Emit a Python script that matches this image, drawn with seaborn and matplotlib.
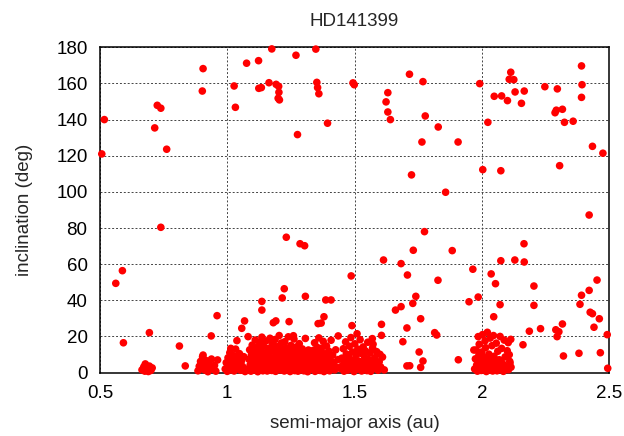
import matplotlib
matplotlib.use("Agg")
import matplotlib.pyplot as plt
import seaborn as sns
import pandas as pd

# ---- data: (semi-major axis [au], inclination [deg]) ----
high_points = [
    (1.175, 179.1), (1.348, 179.0), (1.270, 175.6), (1.123, 172.6), (1.076, 171.2),
    (0.905, 168.2), (1.027, 158.6), (1.164, 160.4), (1.124, 157.3), (1.134, 157.7),
    (1.192, 159.5), (1.202, 158.4), (1.203, 155.1), (1.200, 151.8), (1.205, 150.9),
    (1.352, 160.6), (1.355, 157.7), (1.360, 154.3), (1.494, 160.3), (1.499, 159.3),
    (0.902, 155.8), (0.725, 147.9), (0.739, 146.3), (1.032, 146.8), (0.517, 140.0),
    (0.715, 135.4), (1.276, 131.7), (1.394, 138.0), (0.762, 123.6), (0.507, 121.0),
    (1.716, 165.1), (1.769, 161.0), (1.631, 154.9), (1.624, 149.8), (1.631, 144.2),
    (1.641, 140.0), (1.778, 142.0), (1.829, 135.9), (1.765, 127.6), (1.907, 127.6),
    (1.724, 109.4), (1.858, 99.8), (1.992, 159.9), (2.004, 112.3), (2.075, 111.7),
    (2.049, 152.9), (2.078, 153.1), (2.101, 150.5), (2.108, 162.3), (2.126, 162.1),
    (2.114, 166.2), (2.131, 155.3), (2.167, 155.8), (2.156, 149.0), (2.024, 138.5),
    (2.248, 158.2), (2.297, 157.0), (2.288, 143.8), (2.293, 145.2), (2.317, 145.7),
    (2.325, 138.5), (2.359, 139.1), (2.392, 169.7), (2.394, 159.3), (2.392, 152.3),
    (2.435, 125.2), (2.476, 121.4), (2.306, 114.5),
]

mid_points = [
    (0.739, 80.4), (0.588, 56.4), (0.562, 49.4), (0.694, 22.1), (0.592, 16.5),
    (0.812, 14.7), (0.835, 3.7), (0.960, 31.5), (0.937, 20.3), (1.232, 74.9),
    (1.286, 71.3), (1.304, 70.2), (1.224, 46.4), (1.216, 41.3), (1.307, 42.2),
    (1.136, 39.4), (1.136, 34.6), (1.068, 28.6), (1.057, 24.5), (1.082, 19.9),
    (1.038, 17.7), (1.181, 27.6), (1.191, 28.6), (1.243, 28.2), (1.260, 20.4),
    (1.387, 40.2), (1.408, 40.2), (1.380, 30.9), (1.357, 27.1), (1.369, 27.4),
    (1.487, 53.5), (1.490, 26.0), (1.436, 20.3),
    (2.422, 87.2), (1.775, 78.0), (1.731, 67.7), (1.884, 67.5), (1.614, 62.3),
    (1.683, 60.3), (1.708, 54.0), (1.828, 51.1), (1.741, 42.2), (1.729, 38.3),
    (1.683, 36.5), (1.661, 34.6), (1.760, 29.8), (1.706, 24.7), (1.606, 26.7),
    (1.606, 20.6), (1.690, 17.1), (1.815, 22.1), (1.823, 20.8), (1.754, 11.4),
    (1.769, 6.4), (1.706, 3.7), (1.717, 3.8), (1.760, 2.9), (1.908, 7.1),
    (1.965, 57.2), (1.950, 39.2), (1.986, 41.8), (2.075, 61.9), (2.130, 62.3),
    (2.166, 71.3), (2.167, 61.2), (2.037, 54.6), (2.054, 49.2), (2.205, 47.9),
    (2.205, 37.2), (2.072, 37.6), (2.047, 30.9), (2.187, 22.9), (2.231, 24.3),
    (2.162, 15.4), (2.291, 23.7), (2.303, 22.6), (2.296, 19.9), (2.317, 26.9),
    (2.321, 9.2), (2.382, 10.7), (2.392, 42.8), (2.386, 37.8), (2.422, 45.5),
    (2.453, 51.2), (2.426, 33.4), (2.435, 32.6), (2.462, 29.8), (2.441, 25.1),
    (2.466, 11.0), (2.493, 21.0), (2.495, 2.4), (1.510, 21.5), (1.570, 18.8),
    (1.573, 15.7), (1.600, 10.1), (2.104, 16.6), (2.114, 18.4), (2.108, 9.9),
    (2.111, 5.3),
]

cluster_07 = [
    (0.665, 1.5), (0.672, 3.2), (0.678, 4.8), (0.685, 2.1), (0.690, 0.6),
    (0.694, 3.6), (0.700, 1.2), (0.676, 0.8), (0.705, 2.6),
]

cluster_09 = [
    (0.885, 1.0), (0.890, 3.5), (0.895, 6.2), (0.898, 2.2), (0.903, 8.8),
    (0.905, 9.7), (0.908, 4.6), (0.912, 1.4), (0.915, 6.8), (0.920, 3.0),
    (0.924, 0.5), (0.928, 5.2), (0.932, 2.4), (0.938, 7.5), (0.945, 1.8),
    (0.950, 4.0), (0.962, 7.0), (0.955, 0.8),
]

cluster_10 = [
    (0.992, 2.0), (0.996, 5.5), (1.000, 0.7), (1.003, 8.2), (1.006, 3.8),
    (1.010, 11.0), (1.012, 1.5), (1.014, 13.4), (1.016, 6.2), (1.020, 3.0),
    (1.024, 9.4), (1.027, 0.9), (1.030, 5.0), (1.033, 13.0), (1.036, 2.2),
    (1.040, 7.6), (1.044, 4.1), (1.048, 10.5), (1.052, 1.3), (1.056, 6.5),
    (1.060, 3.4), (1.065, 8.8), (1.070, 0.6),
]

cluster_12 = [
    (1.082, 2.1), (1.085, 7.4), (1.088, 12.6), (1.090, 4.3), (1.093, 0.8),
    (1.095, 9.9), (1.098, 15.2), (1.100, 3.0), (1.102, 6.7), (1.105, 11.8),
    (1.108, 1.5), (1.110, 18.0), (1.112, 8.5), (1.115, 4.9), (1.117, 13.9),
    (1.120, 0.5), (1.122, 10.4), (1.124, 6.1), (1.127, 16.7), (1.129, 2.7),
    (1.131, 8.0), (1.133, 12.2), (1.136, 19.6), (1.138, 4.0), (1.140, 1.0),
    (1.142, 14.8), (1.145, 7.2), (1.147, 10.9), (1.150, 3.3), (1.152, 17.5),
    (1.154, 5.8), (1.157, 0.9),
    (1.159, 9.2), (1.161, 13.3), (1.163, 2.4), (1.166, 6.9), (1.168, 19.0),
    (1.170, 11.5), (1.172, 4.5), (1.175, 1.2), (1.177, 15.8), (1.179, 8.1),
    (1.181, 3.6), (1.184, 12.7), (1.186, 6.0), (1.188, 18.3), (1.190, 0.7),
    (1.193, 10.1), (1.195, 4.2), (1.197, 14.4), (1.200, 2.0), (1.202, 7.7),
    (1.204, 20.5), (1.206, 11.0), (1.209, 5.3), (1.211, 1.4), (1.213, 16.4),
    (1.215, 8.9), (1.218, 3.1), (1.220, 12.9),
    (1.222, 6.4), (1.224, 0.9), (1.226, 17.1), (1.229, 9.6), (1.231, 3.8),
    (1.233, 13.6), (1.236, 1.6), (1.238, 7.3), (1.240, 19.8), (1.243, 11.3),
    (1.245, 4.6), (1.247, 0.6), (1.250, 15.0), (1.252, 8.4), (1.255, 2.8),
    (1.257, 12.0), (1.260, 5.6), (1.262, 18.6), (1.265, 1.1), (1.267, 9.0),
    (1.270, 14.1), (1.272, 3.9), (1.275, 6.8), (1.278, 0.8), (1.280, 11.7),
    (1.283, 16.0), (1.286, 4.4), (1.289, 8.7), (1.292, 2.3), (1.295, 13.1),
    (1.298, 6.3), (1.301, 1.0), (1.304, 10.2), (1.307, 18.9), (1.310, 3.5),
    (1.313, 7.9), (1.316, 0.5), (1.319, 12.5), (1.322, 5.1), (1.325, 2.6),
    (1.328, 9.5),
]

cluster_14 = [
    (1.332, 1.8), (1.335, 6.6), (1.338, 12.3), (1.340, 3.9), (1.343, 16.5),
    (1.345, 0.7), (1.348, 9.1), (1.350, 4.8), (1.353, 14.0), (1.355, 2.5),
    (1.358, 7.8), (1.360, 19.2), (1.362, 11.1), (1.365, 1.2), (1.367, 5.4),
    (1.370, 13.5), (1.372, 8.3), (1.375, 3.2), (1.377, 17.3), (1.380, 0.6),
    (1.382, 10.4), (1.385, 6.1), (1.388, 2.0), (1.390, 14.7), (1.393, 8.8),
    (1.396, 4.3), (1.399, 11.9), (1.402, 1.0), (1.405, 6.9), (1.408, 17.9),
    (1.411, 3.4), (1.414, 9.7), (1.418, 5.6), (1.422, 1.5), (1.426, 12.6),
    (1.430, 3.0), (1.435, 7.2),
]

cluster_15 = [
    (1.445, 2.2), (1.450, 8.0), (1.453, 4.1), (1.456, 13.2), (1.459, 0.8),
    (1.462, 6.3), (1.465, 17.0), (1.468, 10.3), (1.471, 3.3), (1.474, 1.4),
    (1.477, 8.9), (1.480, 14.6), (1.483, 5.5), (1.486, 19.4), (1.489, 2.6),
    (1.492, 11.4), (1.495, 7.0), (1.498, 0.6), (1.501, 15.9), (1.504, 4.5),
    (1.507, 9.8), (1.510, 1.9), (1.513, 13.0), (1.516, 6.4), (1.519, 3.0),
    (1.522, 18.2), (1.525, 10.7), (1.528, 0.9), (1.531, 5.9), (1.534, 14.2),
    (1.537, 2.8), (1.540, 8.5), (1.543, 12.0), (1.546, 4.0), (1.549, 1.1),
    (1.552, 16.8), (1.555, 7.3), (1.558, 3.6), (1.561, 10.9), (1.564, 0.7),
    (1.567, 5.2), (1.571, 13.7), (1.575, 2.4), (1.579, 8.2), (1.583, 4.7),
    (1.587, 11.6), (1.592, 1.3), (1.597, 6.0), (1.603, 3.1), (1.610, 8.6),
    (1.617, 1.5),
]

cluster_20 = [
    (1.972, 2.0), (1.975, 7.6), (1.978, 12.5), (1.980, 4.2), (1.983, 0.8),
    (1.986, 19.9), (1.988, 9.3), (1.990, 15.7), (1.993, 3.1), (1.995, 6.5),
    (1.998, 1.2), (2.000, 11.4), (2.003, 21.0), (2.005, 5.0), (2.008, 8.4),
    (2.010, 2.3), (2.013, 17.6), (2.015, 13.8), (2.018, 0.6), (2.020, 6.9),
    (2.022, 22.3), (2.025, 3.7), (2.028, 10.2), (2.030, 1.5), (2.033, 19.1),
    (2.035, 7.8), (2.038, 4.5), (2.040, 14.9), (2.043, 0.9), (2.046, 20.5),
    (2.048, 9.0), (2.051, 2.8), (2.054, 5.7), (2.057, 16.3), (2.060, 1.0),
    (2.063, 11.8), (2.066, 3.9), (2.069, 7.1), (2.072, 20.0), (2.075, 2.1),
    (2.078, 13.4), (2.081, 5.2), (2.085, 0.7), (2.088, 18.0), (2.092, 8.7),
    (2.096, 3.3), (2.100, 12.1), (2.105, 1.6), (2.110, 6.2), (2.115, 3.0),
    (1.969, 12.5),
]

x_ticks = [0.5, 1.0, 1.5, 2.0, 2.5]
x_tick_labels = ["0.5", "1", "1.5", "2", "2.5"]
y_ticks = [0, 20, 40, 60, 80, 100, 120, 140, 160, 180]

groups = [high_points, mid_points, cluster_07, cluster_09, cluster_10,
          cluster_12, cluster_14, cluster_15, cluster_20]
rows = [p for g in groups for p in g]
df = pd.DataFrame(rows, columns=["a", "inc"])

sns.set_style("white")
plt.rcParams["font.family"] = ["Liberation Sans", "DejaVu Sans"]

fig = plt.figure(figsize=(6.24, 4.36), dpi=100)
ax = fig.add_axes([100 / 624, 1 - 372.6 / 436, (609 - 100) / 624, (372.6 - 47.3) / 436])

sns.scatterplot(data=df, x="a", y="inc", ax=ax, color="#ff0000", s=30,
                linewidth=0, edgecolor="none", clip_on=False, zorder=3)

ax.set_xlim(0.5, 2.5)
ax.set_ylim(0, 180)
ax.set_xticks(x_ticks)
ax.set_xticklabels(x_tick_labels)
ax.set_yticks(y_ticks)
ax.tick_params(direction="in", length=0, labelsize=13.5, colors="black", pad=9)
ax.grid(True, color="#444444", linestyle=(0, (2, 2)), linewidth=0.7)
for sp in ax.spines.values():
    sp.set_color("black")
    sp.set_linewidth(1.1)
ax.set_axisbelow(True)

ax.set_xlabel("semi-major axis (au)", fontsize=13.5, labelpad=9)
ax.set_ylabel("inclination (deg)", fontsize=13.5, labelpad=17)
ax.set_title("HD141399", fontsize=13.5, pad=15)

fig.savefig("out.png", dpi=100)
